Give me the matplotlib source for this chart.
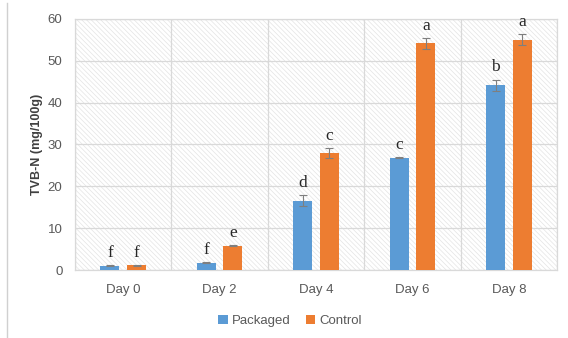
import numpy as np
import matplotlib
matplotlib.use('agg')
import matplotlib.pyplot as plt
from matplotlib.lines import Line2D

days = ['Day 0', 'Day 2', 'Day 4', 'Day 6', 'Day 8']
packaged = [1.0, 1.8, 16.6, 26.8, 44.2]
control = [1.1, 5.8, 27.9, 54.2, 55.0]
packaged_err = [0.1, 0.15, 1.3, 0.1, 1.3]
control_err = [0.15, 0.15, 1.2, 1.3, 1.3]
packaged_letters = ['f', 'f', 'd', 'c', 'b']
control_letters = ['f', 'e', 'c', 'a', 'a']

blue = '#5b9bd5'
orange = '#ed7d31'
grid_c = '#d9d9d9'
txt_c = '#595959'

plt.rcParams['hatch.linewidth'] = 0.5
plt.rcParams['font.family'] = ['Liberation Sans', 'DejaVu Sans']

fig = plt.figure(figsize=(5.68, 3.38), dpi=100)
ax = fig.add_axes([0.132, 0.201, 0.849, 0.743])

# hatched plot background
ax.patch.set_facecolor('white')
ax.patch.set_edgecolor('#e4e4e4')
ax.patch.set_hatch('\\' * 7)

x = np.arange(len(days))
off = 0.138
w = 0.197
errkw = dict(ecolor='#7f7f7f', elinewidth=0.8, capsize=3, capthick=0.8)
ax.bar(x - off, packaged, w, yerr=packaged_err, color=blue, label='Packaged',
       error_kw=errkw, zorder=3)
ax.bar(x + off, control, w, yerr=control_err, color=orange, label='Control',
       error_kw=errkw, zorder=3)

for i in range(len(days)):
    ax.text(x[i] - off, packaged[i] + packaged_err[i] + 1.0, packaged_letters[i],
            ha='center', va='bottom', fontsize=12.5, family='Liberation Serif',
            color='#262626', zorder=4)
    ax.text(x[i] + off, control[i] + control_err[i] + 1.0, control_letters[i],
            ha='center', va='bottom', fontsize=12.5, family='Liberation Serif',
            color='#262626', zorder=4)

ax.set_xlim(-0.5, len(days) - 0.5)
ax.set_ylim(0, 60)
ax.set_yticks(np.arange(0, 61, 10))
ax.set_xticks(x)
ax.set_xticklabels(days)
ax.set_xticks(np.arange(-0.5, len(days), 1.0), minor=True)
ax.grid(axis='y', which='major', color=grid_c, linewidth=0.9, zorder=1)
ax.grid(axis='x', which='minor', color=grid_c, linewidth=0.9, zorder=1)
ax.set_axisbelow(True)
ax.tick_params(axis='both', which='both', length=0, colors=txt_c, labelsize=9.5)
ax.tick_params(axis='y', pad=9)
ax.tick_params(axis='x', pad=10)
for s in ax.spines.values():
    s.set_color(grid_c)
    s.set_linewidth(0.9)

ax.set_ylabel('TVB-N (mg/100g)', fontsize=9, fontweight='bold', color='#404040', labelpad=3)

ax.legend(loc='upper center', bbox_to_anchor=(0.446, -0.13), ncol=2, frameon=False,
          fontsize=9.5, labelcolor=txt_c, handlelength=0.7, handleheight=0.7,
          handletextpad=0.3, columnspacing=1.2)

# thin frame line at left edge of the figure
fig.add_artist(Line2D([0.012, 0.012], [0.0, 0.99], color='#d0d0d0', linewidth=1.0))

fig.savefig('out.png', dpi=100)
